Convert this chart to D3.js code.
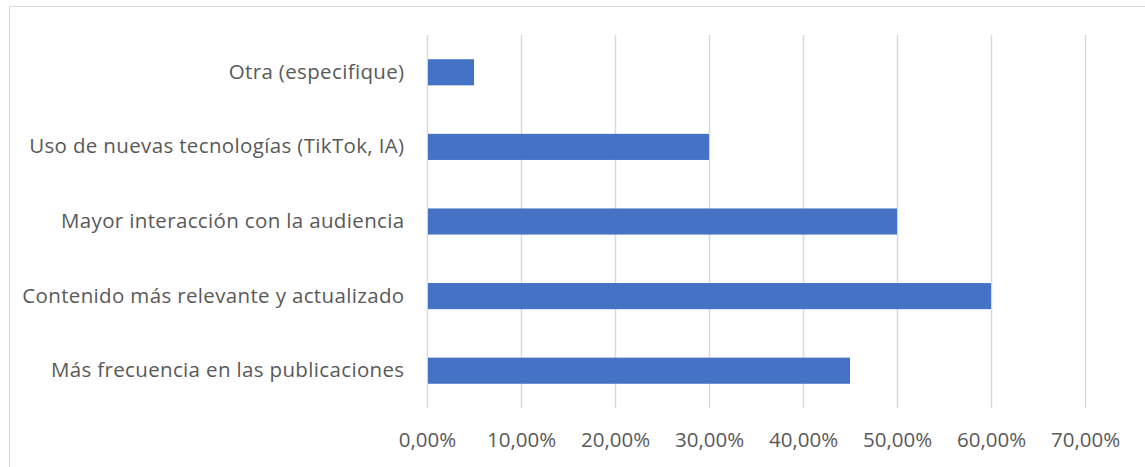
<!DOCTYPE html>
<html><head><meta charset="utf-8">
<script src="https://cdn.jsdelivr.net/npm/d3@7"></script>
<style>body{margin:0;background:#fff;} text{font-family:"Open Sans", sans-serif;}</style>
</head><body>
<svg id="c" width="1145" height="467"></svg>
<script>
const categories = ["Otra (especifique)", "Uso de nuevas tecnologías (TikTok, IA)", "Mayor interacción con la audiencia", "Contenido más relevante y actualizado", "Más frecuencia en las publicaciones"];
const values = [0.05, 0.30, 0.50, 0.60, 0.45];
const ticks = [0, 0.1, 0.2, 0.3, 0.4, 0.5, 0.6, 0.7];

const svg = d3.select("#c");
svg.append("rect").attr("x", 9.5).attr("y", 6.5).attr("width", 1145).attr("height", 470)
  .attr("fill", "#fff").attr("stroke", "#d9d9d9").attr("stroke-width", 1);

const x = d3.scaleLinear().domain([0, 0.7]).range([427, 1085]);
const y = d3.scaleBand().domain(categories).range([35, 408]).paddingInner(0.65).paddingOuter(0.325);

const fmt = v => d3.format(".2f")(v * 100).replace(".", ",") + "%";

const g = svg.append("g");
g.selectAll("line.grid").data(ticks).join("line").attr("class", "grid")
  .attr("x1", d => Math.round(x(d)) + 0.5).attr("x2", d => Math.round(x(d)) + 0.5)
  .attr("y1", 35).attr("y2", 408).attr("stroke", "#d9d9d9").attr("stroke-width", 1.5);

g.selectAll("rect.bar").data(categories).join("rect").attr("class", "bar")
  .attr("x", x(0) + 1).attr("y", d => y(d))
  .attr("width", (d, i) => x(values[i]) - x(0) - 1).attr("height", y.bandwidth())
  .attr("fill", "#4472c4");

const xa = svg.append("g").attr("transform", "translate(0,408)")
  .call(d3.axisBottom(x).tickValues(ticks).tickFormat(fmt).tickSize(0).tickPadding(24));
xa.select(".domain").remove();
xa.selectAll("text").attr("fill", "#595959").style("font-size", "20.5px").style("font-family", "'Open Sans', sans-serif");

const ya = svg.append("g").attr("transform", "translate(404.5,0)")
  .call(d3.axisLeft(y).tickSize(0).tickPadding(0));
ya.select(".domain").remove();
ya.selectAll("text").attr("fill", "#595959").style("font-size", "20.5px").style("letter-spacing", "0.35px").style("font-family", "'Open Sans', sans-serif");
</script>
</body></html>
